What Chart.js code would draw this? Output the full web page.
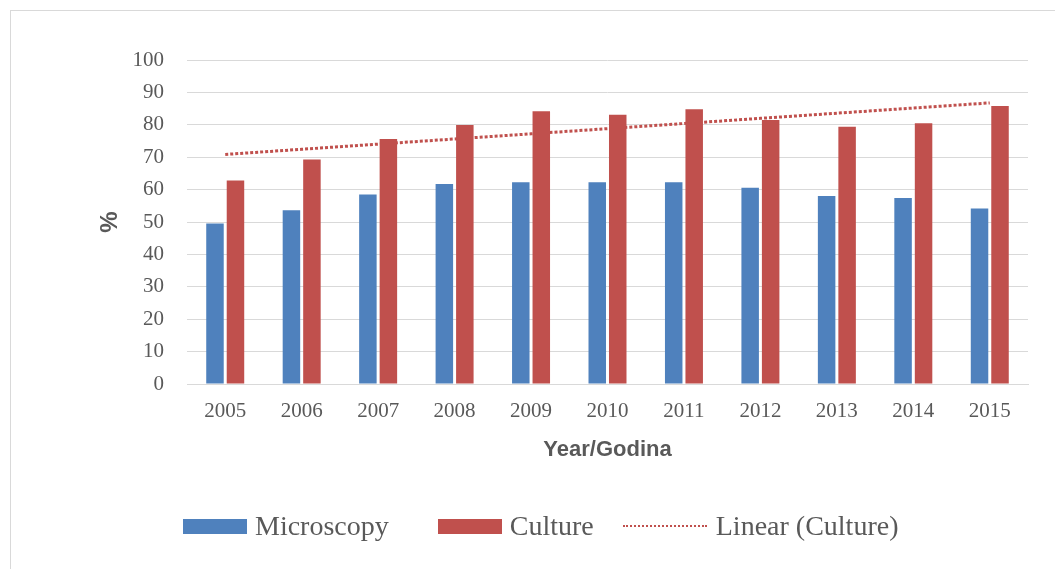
<!DOCTYPE html>
<html lang="en">

<head>
    <meta charset="UTF-8">
    <title>Microscopy vs Culture</title>
    <style>
        body { margin: 0; background: #fff; }
        #box { position: relative; width: 1055px; height: 569px; overflow: hidden; }
        #frame { position: absolute; left: 10px; top: 10px; width: 1100px; height: 600px; border: 1px solid #d9d9d9; }
        #grafico { position: absolute; left: 0; top: 0; }
        #legenda { position: absolute; left: 183px; top: 510px; display: flex; align-items: center;
            font-family: "Liberation Serif", serif; font-size: 28px; color: #595959; white-space: nowrap; }
        .caixa { display: inline-block; width: 64px; height: 15px; margin-right: 8px; }
        .linha { display: inline-block; width: 84px; height: 0; border-top: 2px dotted #C0504D; margin-right: 9px; }
    </style>
</head>

<body>
    <div id="box">
        <div id="frame"></div>
        <canvas id="grafico" width="1055" height="569"></canvas>
        <div id="legenda">
            <span class="caixa" style="background:#4F81BD"></span><span style="margin-right:49px">Microscopy</span>
            <span class="caixa" style="background:#C0504D"></span><span style="margin-right:29px">Culture</span>
            <span class="linha"></span><span>Linear (Culture)</span>
        </div>
    </div>

    <script src="https://cdn.jsdelivr.net/npm/chart.js"></script>
    <script>
        const anos = ['2005', '2006', '2007', '2008', '2009', '2010', '2011', '2012', '2013', '2014', '2015']
        const microscopia = [49.5, 53.6, 58.5, 61.7, 62.3, 62.3, 62.3, 60.6, 58.0, 57.4, 54.2]
        const cultura = [62.8, 69.3, 75.6, 79.9, 84.2, 83.1, 84.8, 81.5, 79.4, 80.5, 85.8]
        const ticksY = [0, 10, 20, 30, 40, 50, 60, 70, 80, 90, 100]

        // linha de tendência linear (mínimos quadrados) da cultura
        const n = cultura.length
        const mx = (n - 1) / 2
        const my = cultura.reduce((a, b) => a + b, 0) / n
        let sxy = 0, sxx = 0
        cultura.forEach((v, i) => { sxy += (i - mx) * (v - my); sxx += (i - mx) * (i - mx) })
        const inclinacao = sxy / sxx
        const tendencia = cultura.map((v, i) => my + inclinacao * (i - mx))

        const cinza = '#595959'
        const fonteTick = { family: 'Liberation Serif', size: 21 }
        const fonteTitulo = { family: 'Liberation Sans', size: 22, weight: 'bold' }

        const ctx = document.getElementById('grafico')

        new Chart(ctx, {
            type: 'bar',
            data: {
                labels: anos,
                datasets: [{
                    label: 'Microscopy',
                    data: microscopia,
                    backgroundColor: '#4F81BD',
                    order: 1
                }, {
                    label: 'Culture',
                    data: cultura,
                    backgroundColor: '#C0504D',
                    order: 1
                }, {
                    type: 'line',
                    label: 'Linear (Culture)',
                    data: tendencia,
                    borderColor: '#C0504D',
                    borderWidth: 3,
                    borderDash: [3, 2],
                    pointRadius: 0,
                    fill: false,
                    order: 3
                }]
            },
            options: {
                responsive: false,
                animation: false,
                categoryPercentage: 0.536,
                barPercentage: 0.854,
                layout: { padding: { left: 96, top: 60, right: 27, bottom: 106 } },
                plugins: {
                    legend: { display: false },
                    tooltip: { enabled: false }
                },
                scales: {
                    x: {
                        grid: { display: false, drawTicks: false },
                        border: { display: true, color: '#d9d9d9' },
                        ticks: { color: cinza, font: fonteTick, padding: 15, maxRotation: 0 },
                        title: { display: true, text: 'Year/Godina', color: cinza, font: fonteTitulo, padding: 0 },
                        afterFit: s => { s.height = 79 }
                    },
                    y: {
                        min: 0,
                        max: 100,
                        afterBuildTicks: s => { s.ticks = ticksY.map(v => ({ value: v })) },
                        grid: { color: '#d9d9d9', drawTicks: false },
                        border: { display: false },
                        ticks: { color: cinza, font: fonteTick, padding: 23 },
                        title: { display: true, text: '%', color: cinza, font: { family: 'Liberation Sans', size: 24, weight: 'bold' }, padding: 0 },
                        afterFit: s => { s.width = 91 }
                    }
                }
            }
        })
    </script>
</body>

</html>
